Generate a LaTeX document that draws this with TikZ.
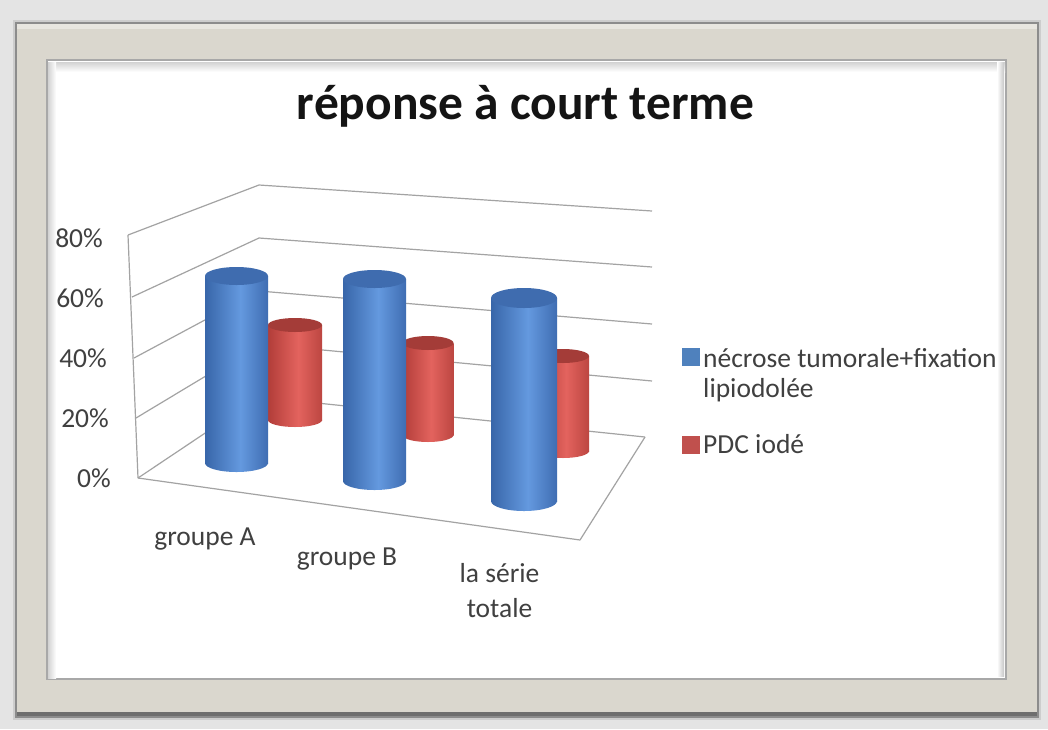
\documentclass[tikz,border=0pt]{standalone}
\usepackage{fontspec}
\setmainfont{Carlito}
\definecolor{bgc}{HTML}{E4E4E4}
\definecolor{glowc}{HTML}{CDCDCD}
\definecolor{framec}{HTML}{DAD7CE}
\definecolor{framehi}{HTML}{E8E6E0}
\definecolor{frameedge}{HTML}{8C8C8C}
\definecolor{frameshadow}{HTML}{6E6E6E}
\definecolor{innerline}{HTML}{A8A8A8}
\definecolor{gridc}{HTML}{A3A3A3}
\definecolor{txtc}{HTML}{404040}
\definecolor{titlec}{HTML}{141414}
\definecolor{bL}{HTML}{3866A9}
\definecolor{bM}{HTML}{6499DF}
\definecolor{bR}{HTML}{3F6DB2}
\definecolor{bT}{HTML}{3F6CAF}
\definecolor{rL}{HTML}{B23D39}
\definecolor{rM}{HTML}{E3635E}
\definecolor{rR}{HTML}{BC4641}
\definecolor{rT}{HTML}{A43C38}
\definecolor{blueleg}{HTML}{4F81BD}
\definecolor{redleg}{HTML}{C0504D}
\pgfdeclarehorizontalshading{bluecyl}{100bp}{color(0bp)=(bL); color(25bp)=(bL); color(53bp)=(bM); color(75bp)=(bR); color(100bp)=(bR)}
\pgfdeclarehorizontalshading{redcyl}{100bp}{color(0bp)=(rL); color(25bp)=(rL); color(53bp)=(rM); color(75bp)=(rR); color(100bp)=(rR)}
% cx, rx, ytop, ybot, ry, shading, top colour
\newcommand\drawcyl[7]{%
  \shade[shading=#6] (#1-#2,#3) rectangle (#1+#2,#4);
  \shade[shading=#6] (#1,#4) ellipse [x radius=#2pt, y radius=#5pt];
  \fill[#7] (#1,#3) ellipse [x radius=#2pt, y radius=#5pt];
}
\begin{document}
\begin{tikzpicture}[x=1pt,y=-1pt,
  grid/.style={draw=gridc, line width=1.2pt, line join=round},
  lbl/.style={font=\fontsize{27.5}{33}\selectfont, text=txtc, inner sep=0pt},
  legkey/.style={minimum size=18pt, inner sep=0pt}]
\useasboundingbox (0,0) rectangle (1048,729);
% background and frame
\fill[bgc] (0,0) rectangle (1048,729);
\fill[glowc] (13,20) rectangle (1041,720);
\fill[frameedge] (15,22) rectangle (1039,718);
\fill[framec] (17,24) rectangle (1037,716);
\fill[framehi] (17,24) rectangle (1037,29);
\fill[frameshadow] (17,712) rectangle (1037,716);
\fill[innerline] (46,59) rectangle (1007,680);
\fill[white] (48,61) rectangle (1005,678);
\shade[top color=gray!35, bottom color=white] (48,62) rectangle (1005,72);
\shade[left color=gray!35, right color=white] (48,62) rectangle (56,678);
\shade[left color=white, right color=gray!45] (997,62) rectangle (1004,676);
% side wall
\draw[grid] (138,478) -- (128,235);
\draw[grid] (128,235) -- (259,185) -- (652,211);
\draw[grid] (132,297) -- (259,238) -- (652,267);
\draw[grid] (134,358) -- (259,291) -- (652,324);
\draw[grid] (136,418) -- (259,344) -- (652,381);
\draw[grid] (138,478) -- (259,397) -- (645,437);
% floor
\draw[grid] (138,478) -- (580,540) -- (645,437);
% cylinders: red (behind) first
\drawcyl{295}{27}{325}{420}{7}{redcyl}{rT}
\drawcyl{428}{25.5}{343}{435}{7}{redcyl}{rT}
\drawcyl{563}{26}{356}{451}{7}{redcyl}{rT}
\drawcyl{236.5}{31.5}{276}{463}{9}{bluecyl}{bT}
\drawcyl{374.5}{31.5}{279}{481}{9}{bluecyl}{bT}
\drawcyl{524}{33}{298}{501}{10}{bluecyl}{bT}
% title
\node[font=\bfseries\fontsize{49.5}{55}\selectfont, text=titlec, anchor=base, inner sep=0pt] (title) at (525.5,119) {réponse à court terme};
% y axis labels
\node[lbl, anchor=base east] (y80) at (103,247) {80\%};
\node[lbl, anchor=base east] (y60) at (104,307) {60\%};
\node[lbl, anchor=base east] (y40) at (107,367) {40\%};
\node[lbl, anchor=base east] (y20) at (109,427) {20\%};
\node[lbl, anchor=base east] (y0) at (111,487) {0\%};
% category labels
\node[lbl, anchor=base] (cA) at (205,545) {groupe A};
\node[lbl, anchor=base] (cB) at (347,565) {groupe B};
\node[lbl, anchor=north, align=center, font=\fontsize{27.5}{35}\selectfont] (cC) at (499.5,563) {la série\\totale};
% legend
\node[legkey, fill=blueleg] (k1) at (691,357) {};
\node[lbl, anchor=north west, align=left, font=\fontsize{27.5}{30}\selectfont] (t1) at (703,348) {nécrose tumorale+fixation\\lipiodolée};
\node[legkey, fill=redleg] (k2) at (691,445) {};
\node[lbl, anchor=base west] (t2) at (703,453) {PDC iodé};
\end{tikzpicture}
\end{document}
